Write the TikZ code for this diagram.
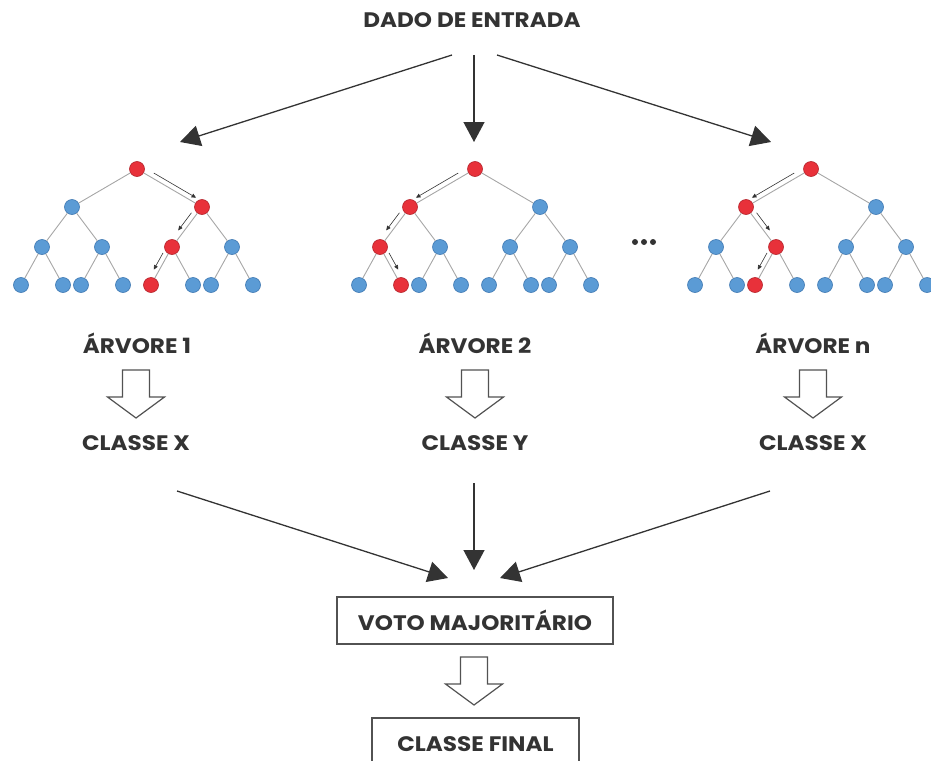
\documentclass[tikz,border=0pt]{standalone}
\usepackage{fontspec}
\setmainfont{Poppins}[FakeStretch=1.1]
\usetikzlibrary{arrows.meta,calc,positioning}

\definecolor{azul}{HTML}{5B9BD5}
\definecolor{azulesc}{HTML}{3E78B2}
\definecolor{verm}{HTML}{E8313A}
\definecolor{vermesc}{HTML}{B5222A}
\definecolor{texto}{HTML}{333333}
\definecolor{linha}{HTML}{A6A6A6}

% arvore{nome}{x da raiz}{no 2}{no 3}{no 4} -- os nos do caminho ficam vermelhos
\newcommand{\arvore}[5]{%
	\foreach \i/\dx/\y in {1/0/169, 2/-65/207, 3/65/207, 4/-95/247, 5/-35/247, 6/35/247, 7/95/247,
		8/-116/285, 9/-74/285, 10/-56/285, 11/-14/285, 12/14/285, 13/56/285, 14/74/285, 15/116/285} {
		\pgfmathtruncatemacro\caminho{(\i==1)||(\i==#3)||(\i==#4)||(\i==#5)}
		\ifnum\caminho=1 \def\cf{verm}\def\cb{vermesc}\else\def\cf{azul}\def\cb{azulesc}\fi
		\node[folha, fill=\cf, draw=\cb] (#1-\i) at (#2+\dx,\y) {};
	}
	\foreach \i in {2,...,15} {
		\pgfmathtruncatemacro\pai{\i/2}
		\draw[aresta] (#1-\pai) -- (#1-\i);
	}
}
% trilha{de}{para}{lado}{fim}
\newcommand{\trilha}[4]{%
	\draw[passo] ($(#1)!0.22!(#2)!5pt!#3:(#2)$) -- ($(#1)!#4!(#2)!5pt!#3:(#2)$);
}

\begin{document}
\begin{tikzpicture}[
		x=1pt, y=-1pt,
		rotulo/.style={font=\bfseries\fontsize{21}{24}\selectfont, text=texto, inner sep=2pt},
		caixa/.style={rotulo, draw=texto!85, line width=1.2pt},
		folha/.style={circle, minimum size=15pt, inner sep=0pt, line width=0.6pt},
		aresta/.style={draw=linha, line width=0.9pt},
		passo/.style={draw=texto, line width=0.6pt, -{Triangle[length=4.5pt,width=4pt]}},
		seta/.style={draw=texto, line width=1.3pt, -{Triangle[length=20pt,width=21pt]}},
		oca/.pic={\draw[draw=texto!85, line width=1.2pt, fill=white]
			(-13.5,0) -- (13.5,0) -- (13.5,27) -- (28.5,27) -- (0,48) -- (-28.5,27) -- (-13.5,27) -- cycle;},
	]
	\useasboundingbox (0,0) rectangle (931,760);
	\clip (0,0) rectangle (931,760);

	\node[rotulo] (entrada) at (472,20) {DADO DE ENTRADA};

	% as tres arvores
	\arvore{a}{137}{3}{6}{12}
	\arvore{b}{475}{2}{4}{9}
	\arvore{c}{811}{2}{5}{10}

	\trilha{a-1}{a-3}{90}{0.87}
	\trilha{a-3}{a-6}{-90}{0.66}
	\trilha{a-6}{a-12}{-90}{0.66}
	\trilha{b-1}{b-2}{-90}{0.87}
	\trilha{b-2}{b-4}{-90}{0.66}
	\trilha{b-4}{b-9}{90}{0.66}
	\trilha{c-1}{c-2}{-90}{0.87}
	\trilha{c-2}{c-5}{90}{0.66}
	\trilha{c-5}{c-10}{-90}{0.66}

	\foreach \k in {635,644,653}
		\fill[texto] (\k,242) circle (3);

	\coordinate (e1) at (452,55);
	\coordinate (e2) at (474,55);
	\coordinate (e3) at (497,55);
	\coordinate (t1) at (180,142);
	\coordinate (t2) at (474,142);
	\coordinate (t3) at (771,142);
	\draw[seta] (e1) -- (t1);
	\draw[seta] (e2) -- (t2);
	\draw[seta] (e3) -- (t3);

	\node[rotulo] (arv1) at (137,343) {ÁRVORE 1};
	\node[rotulo] (arv2) at (475,343) {ÁRVORE 2};
	\node[rotulo] (arv3) at (813,343) {ÁRVORE n};

	\pic at (136,370) {oca};
	\pic at (475,370) {oca};
	\pic at (813,370) {oca};

	\node[rotulo] (cl1) at (136,443) {CLASSE X};
	\node[rotulo] (cl2) at (475,443) {CLASSE Y};
	\node[rotulo] (cl3) at (813,443) {CLASSE X};

	\coordinate (b1) at (177,491);
	\coordinate (b2) at (474,483);
	\coordinate (b3) at (770,491);
	\coordinate (v1) at (448,578);
	\coordinate (v2) at (474,570);
	\coordinate (v3) at (500,578);
	\draw[seta] (b1) -- (v1);
	\draw[seta] (b2) -- (v2);
	\draw[seta] (b3) -- (v3);

	\node[caixa, minimum width=276pt, minimum height=47pt] (voto) at (475,620.5) {VOTO MAJORITÁRIO};
	\pic at (474,657) {oca};
	\node[caixa, minimum width=207pt, minimum height=52pt] (final) at (475.5,744) {CLASSE FINAL};
\end{tikzpicture}
\end{document}
